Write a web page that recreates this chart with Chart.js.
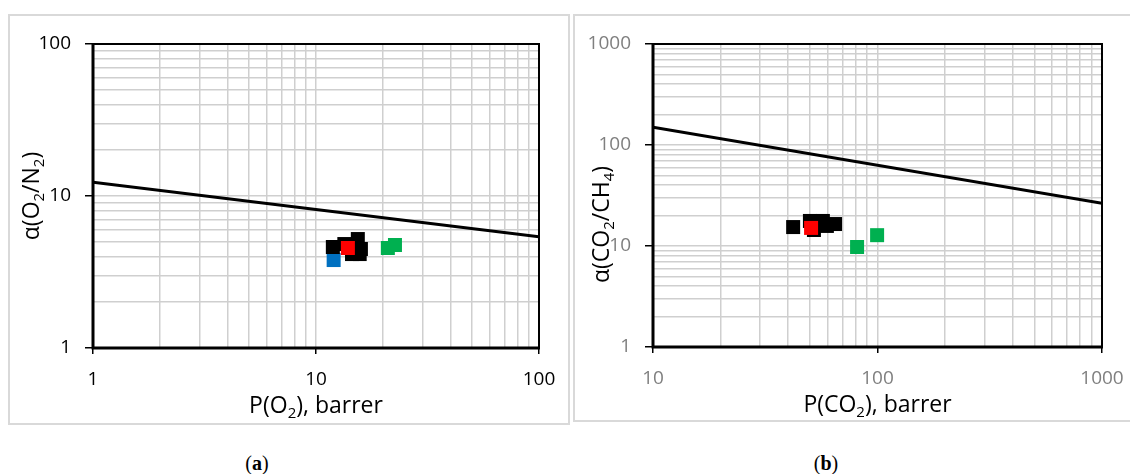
<!DOCTYPE html>
<html>
<head>
<meta charset="utf-8">
<script src="https://cdn.jsdelivr.net/npm/chart.js@4.4.1/dist/chart.umd.min.js"></script>
<style>
  html, body { margin: 0; padding: 0; background: #fff; }
  body { position: relative; width: 1130px; height: 474px; overflow: hidden; }
  .panel { position: absolute; box-sizing: border-box; border: 2px solid #d9d9d9; background: #fff; }
  canvas { position: absolute; }
  .caption { position: absolute; top: 451px; width: 60px; margin-left: -30px; text-align: center;
    font: 20px 'Liberation Serif', 'DejaVu Serif', serif; color: #000; line-height: 24px; }
  .caption b { font-weight: bold; }
</style>
</head>
<body>
<div class="panel" style="left:8px; top:14px; width:562px; height:411px;"></div>
<div class="panel" style="left:573px; top:14px; width:580px; height:408px;"></div>
<canvas id="chart-a" width="560" height="410" style="left:9px; top:15px;"></canvas>
<canvas id="chart-b" width="555" height="406" style="left:575px; top:15px;"></canvas>
<div class="caption" style="left:257px;">(<b>a</b>)</div>
<div class="caption" style="left:826px;">(<b>b</b>)</div>

<script>
// (a) O2/N2 — upper bound line and membrane samples
const aLineX = [1, 100];
const aLineY = [12.3, 5.4];
const aBlackX = [11.9, 13.4, 15.4, 15.9, 14.5, 15.7];
const aBlackY = [4.62, 4.83, 5.21, 4.48, 4.15, 4.15];
const aRedX = [13.9];
const aRedY = [4.55];
const aBlueX = [12.0];
const aBlueY = [3.79];
const aGreenX = [21.0, 22.6];
const aGreenY = [4.55, 4.76];

// (b) CO2/CH4
const bLineX = [10, 1000];
const bLineY = [150, 26.5];
const bBlackX = [42.1, 50.0, 57.1, 64.7, 52.1, 59.5];
const bBlackY = [15.4, 17.7, 17.7, 16.5, 14.4, 15.8];
const bRedX = [50.6];
const bRedY = [15.1];
const bGreenX = [81.1, 99.6];
const bGreenY = [9.77, 12.8];

// axis ranges (decades)
const aXRange = [1, 100];
const aYRange = [1, 100];
const bXRange = [10, 1000];
const bYRange = [1, 1000];

const GRID = '#cfcfcf';
const FONT = "'Open Sans', 'Liberation Sans', sans-serif";

const zip = (xs, ys) => xs.map((x, i) => ({ x, y: ys[i] }));
const isPow10 = (v) => Math.abs(Math.log10(v) - Math.round(Math.log10(v))) < 1e-9;

/** 1..9 x 10^k gridline values between min and max */
function logTicks(min, max) {
  const out = [];
  for (let e = Math.round(Math.log10(min)); Math.pow(10, e) <= max; e++) {
    for (let m = 1; m <= 9; m++) {
      const v = m * Math.pow(10, e);
      if (v > max * 1.0001) break;
      out.push(v);
    }
  }
  return out;
}

/** Draw text made of [text, isSubscript] parts, centred at 0,0 */
function drawRich(ctx, parts, size) {
  const big = `${size}px ${FONT}`;
  const small = `${Math.round(size * 0.65)}px ${FONT}`;
  let total = 0;
  parts.forEach(([t, sub]) => {
    ctx.font = sub ? small : big;
    total += ctx.measureText(t).width;
  });
  let x = -total / 2;
  ctx.textBaseline = 'middle';
  ctx.textAlign = 'left';
  parts.forEach(([t, sub]) => {
    ctx.font = sub ? small : big;
    ctx.fillText(t, x, sub ? size * 0.32 : 0);
    x += ctx.measureText(t).width;
  });
}

const axisTitles = {
  id: 'axisTitles',
  afterDraw(chart, args, opts) {
    const { ctx, chartArea } = chart;
    ctx.save();
    ctx.fillStyle = '#000';
    ctx.translate((chartArea.left + chartArea.right) / 2, chartArea.bottom + opts.xOffset);
    drawRich(ctx, opts.x, opts.size);
    ctx.restore();

    ctx.save();
    ctx.fillStyle = '#000';
    ctx.translate(opts.yX, (chartArea.top + chartArea.bottom) / 2 + opts.yShift);
    ctx.rotate(-Math.PI / 2);
    drawRich(ctx, opts.y, opts.size);
    ctx.restore();
  },
};

const frame = {
  id: 'frame',
  beforeDatasetsDraw(chart) {
    const { ctx, chartArea: a } = chart;
    ctx.save();
    ctx.strokeStyle = '#000';
    ctx.lineWidth = 2;
    ctx.beginPath();
    ctx.moveTo(a.left, a.top);
    ctx.lineTo(a.right, a.top);
    ctx.lineTo(a.right, a.bottom);
    ctx.stroke();
    ctx.lineWidth = 3;
    ctx.beginPath();
    ctx.moveTo(a.left, a.top - 1);
    ctx.lineTo(a.left, a.bottom);
    ctx.lineTo(a.right + 1, a.bottom);
    ctx.stroke();
    ctx.restore();
  },
};

function marker(label, xs, ys, color) {
  return {
    label,
    data: zip(xs, ys),
    pointStyle: 'rect',
    pointRadius: 9.9,
    pointHoverRadius: 9.9,
    backgroundColor: color,
    borderWidth: 0,
    showLine: false,
  };
}

function boundLine(xs, ys) {
  return {
    label: 'Upper bound',
    data: zip(xs, ys),
    showLine: true,
    borderColor: '#000',
    borderWidth: 3,
    pointRadius: 0,
    fill: false,
  };
}

function logAxis(range, opts) {
  return {
    type: 'logarithmic',
    position: opts.position,
    min: range[0],
    max: range[1],
    afterBuildTicks: (scale) => {
      scale.ticks = logTicks(range[0], range[1]).map((v) => ({ value: v, major: isPow10(v) }));
    },
    afterFit: (scale) => {
      // fixed axis sizes; edge labels may overflow into the outer padding
      if (opts.width) scale.width = opts.width;
      if (opts.height) scale.height = opts.height;
      scale.paddingLeft = 0;
      scale.paddingRight = 0;
      scale.paddingTop = 0;
      scale.paddingBottom = 0;
    },
    border: { display: false },
    grid: {
      color: GRID,
      lineWidth: 1.5,
      drawTicks: true,
      tickLength: opts.tickLength,
      tickWidth: 1.5,
      tickColor: (c) => (c.tick && isPow10(c.tick.value) ? '#000' : 'rgba(0,0,0,0)'),
    },
    ticks: {
      autoSkip: false,
      maxRotation: 0,
      padding: opts.padding,
      color: opts.color,
      font: { family: FONT, size: 19 },
      callback: (v) => (isPow10(v) ? String(v) : ''),
    },
  };
}

function makeChart(id, datasets, cfg) {
  return new Chart(document.getElementById(id), {
    type: 'scatter',
    data: { datasets },
    options: {
      responsive: false,
      animation: false,
      events: [],
      layout: { padding: { left: 0, right: cfg.padRight, top: 29, bottom: 0 } },
      plugins: {
        legend: { display: false },
        tooltip: { enabled: false },
        axisTitles: cfg.titles,
      },
      scales: {
        x: logAxis(cfg.xRange, { position: 'bottom', height: cfg.xHeight, tickLength: 6, padding: 14, color: cfg.tickColor }),
        y: logAxis(cfg.yRange, { position: 'left', width: cfg.yWidth, tickLength: 8, padding: 14, color: cfg.tickColor }),
      },
    },
    plugins: [frame, axisTitles],
  });
}

makeChart(
  'chart-a',
  [
    boundLine(aLineX, aLineY),
    marker('Red', aRedX, aRedY, '#ff0000'),
    marker('Black', aBlackX, aBlackY, '#000000'),
    marker('Blue', aBlueX, aBlueY, '#0070c0'),
    marker('Green', aGreenX, aGreenY, '#00b050'),
  ],
  {
    xRange: aXRange,
    yRange: aYRange,
    padRight: 30,
    xHeight: 77,
    yWidth: 84,
    tickColor: '#000',
    titles: {
      size: 23,
      xOffset: 58,
      x: [['P(O', false], ['2', true], ['), barrer', false]],
      yX: 23,
      yShift: 0,
      y: [['α(O', false], ['2', true], ['/N', false], ['2', true], [')', false]],
    },
  }
);

makeChart(
  'chart-b',
  [
    boundLine(bLineX, bLineY),
    marker('Red', bRedX, bRedY, '#ff0000'),
    marker('Black', bBlackX, bBlackY, '#000000'),
    marker('Green', bGreenX, bGreenY, '#00b050'),
  ],
  {
    xRange: bXRange,
    yRange: bYRange,
    padRight: 28,
    xHeight: 74,
    yWidth: 78,
    tickColor: '#7f7f7f',
    titles: {
      size: 23,
      xOffset: 58,
      x: [['P(CO', false], ['2', true], ['), barrer', false]],
      yX: 27,
      yShift: 29,
      y: [['α(CO', false], ['2', true], ['/CH', false], ['4', true], [')', false]],
    },
  }
);
</script>
</body>
</html>
